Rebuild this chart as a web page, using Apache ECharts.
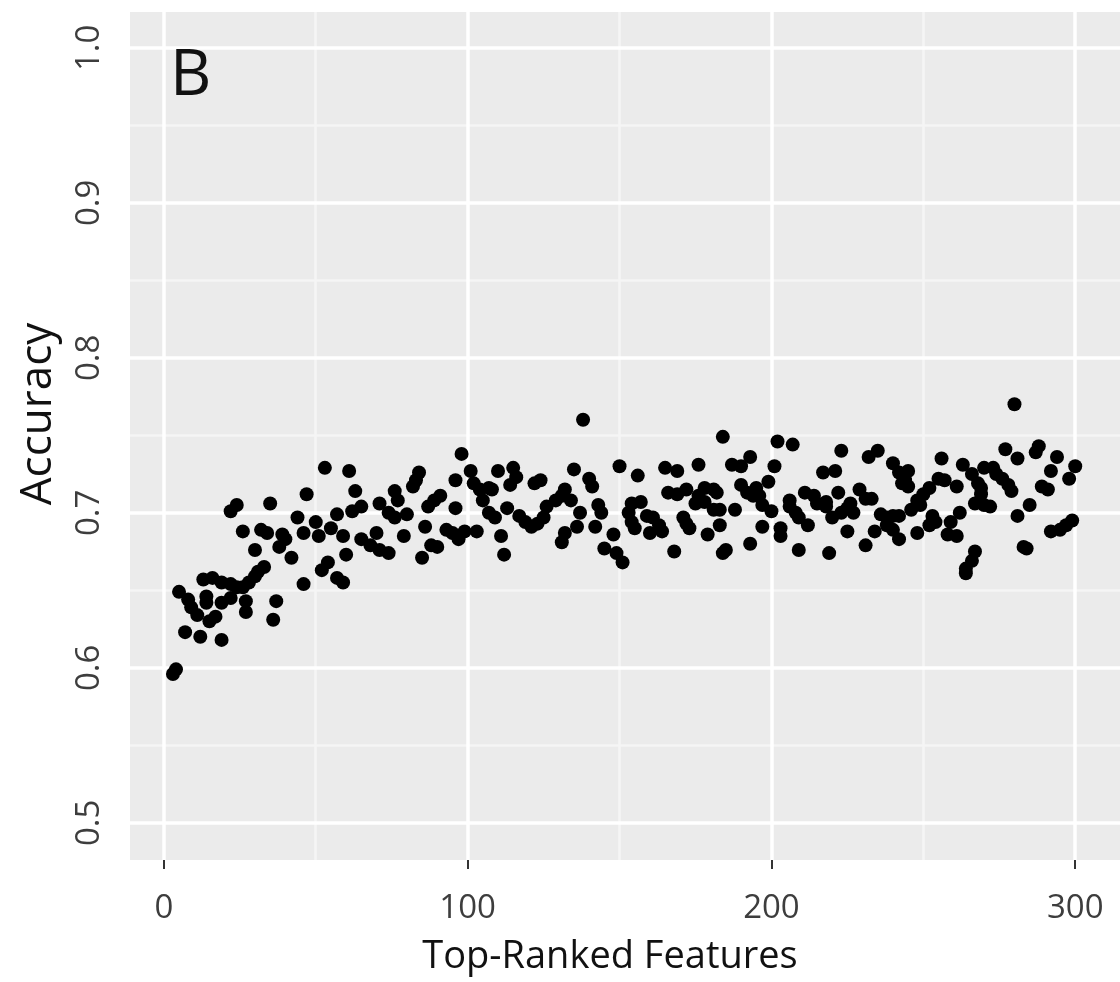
<!DOCTYPE html>
<html><head><meta charset="utf-8">
<script src="https://cdn.jsdelivr.net/npm/echarts@6/dist/echarts.min.js"></script>
<style>html,body{margin:0;padding:0;background:#fff}#c{width:1120px;height:982px}</style>
</head><body><div id="c"></div>
<script>
// Number of top-ranked features used (x) and the resulting accuracy (y)
const featureCounts = [
3,4,22,24,35,26,32,34,44,47,39,40,38,30,42,46,33,31,30,28,26,24,22,19,16,13,5,8,9,11,14,14,19,22,27,27,37,36,7,12,19,15,17,46,
53,61,63,50,57,51,55,59,62,65,65,68,70,71,74,71,74,76,76,77,80,82,84,83,79,60,54,52,57,59,86,85,88,90,93,95,87,89,91,96,96,
138,98,101,102,104,105,107,108,110,115,116,114,122,124,113,107,109,117,119,121,123,125,126,129,131,132,134,135,140,141,137,143,144,142,136,132,131,99,103,97,111,112,145,
184,150,156,165,169,176,187,190,193,166,169,172,178,181,182,190,192,194,154,157,153,154,155,159,161,163,160,164,175,176,178,181,183,171,173,172,188,183,179,148,149,168,185,184,193,151,
202,207,223,232,235,240,242,243,201,217,221,199,195,196,211,214,215,218,218,222,229,231,233,226,225,223,227,206,206,208,209,212,197,200,220,236,238,240,242,238,240,197,203,203,225,234,242,209,219,231,
280,256,277,281,288,287,294,300,298,292,263,266,270,273,274,276,278,279,245,244,245,255,257,261,252,250,268,269,269,248,249,246,267,270,272,289,291,285,281,253,254,252,262,259,299,297,295,292,248,258,261,283,284,267,266,264,264
];
const accuracy = [
0.596,0.599,0.701,0.705,0.706,0.688,0.689,0.687,0.697,0.712,0.686,0.683,0.678,0.676,0.671,0.687,0.665,0.662,0.659,0.655,0.652,0.652,0.654,0.655,0.658,0.657,0.649,0.644,0.639,0.634,0.646,0.642,0.642,0.645,0.643,0.636,0.643,0.631,0.623,0.620,0.618,0.630,0.633,0.654,
0.729,0.727,0.714,0.694,0.699,0.685,0.690,0.685,0.701,0.704,0.683,0.679,0.687,0.676,0.674,0.706,0.700,0.697,0.714,0.708,0.699,0.717,0.726,0.721,0.685,0.673,0.668,0.663,0.658,0.655,0.691,0.671,0.679,0.678,0.689,0.687,0.704,0.708,0.711,0.721,0.703,
0.760,0.738,0.727,0.719,0.715,0.708,0.716,0.715,0.727,0.729,0.723,0.718,0.719,0.721,0.703,0.700,0.697,0.698,0.694,0.691,0.693,0.697,0.704,0.708,0.711,0.715,0.708,0.728,0.722,0.717,0.700,0.705,0.700,0.691,0.691,0.687,0.681,0.688,0.688,0.683,0.685,0.673,0.677,
0.749,0.730,0.724,0.729,0.727,0.731,0.731,0.730,0.736,0.713,0.712,0.715,0.716,0.715,0.713,0.718,0.713,0.711,0.706,0.707,0.700,0.694,0.690,0.698,0.697,0.692,0.687,0.688,0.706,0.711,0.707,0.702,0.702,0.697,0.690,0.693,0.702,0.692,0.686,0.686,0.674,0.675,0.676,0.674,0.680,0.668,
0.746,0.744,0.740,0.736,0.740,0.732,0.726,0.719,0.730,0.726,0.727,0.720,0.716,0.711,0.713,0.711,0.706,0.707,0.704,0.713,0.715,0.709,0.709,0.706,0.703,0.700,0.700,0.708,0.704,0.700,0.697,0.692,0.705,0.701,0.697,0.699,0.697,0.698,0.698,0.692,0.689,0.691,0.690,0.685,0.688,0.688,0.683,0.676,0.674,0.679,
0.770,0.735,0.741,0.735,0.743,0.739,0.736,0.730,0.722,0.727,0.731,0.725,0.729,0.729,0.725,0.722,0.718,0.714,0.727,0.721,0.717,0.722,0.721,0.717,0.716,0.712,0.719,0.716,0.712,0.708,0.705,0.702,0.706,0.705,0.704,0.717,0.715,0.705,0.698,0.698,0.694,0.692,0.700,0.694,0.695,0.692,0.689,0.688,0.687,0.686,0.685,0.678,0.677,0.675,0.669,0.664,0.661
];
const xTicks = [0, 100, 200, 300];
const xMinorTicks = [50, 150, 250];
const yTicks = [0.5, 0.6, 0.7, 0.8, 0.9, 1.0];
const yMinorTicks = [0.55, 0.65, 0.75, 0.85, 0.95];
const xTitle = 'Top-Ranked Features';
const yTitle = 'Accuracy';
const panelTag = 'B';

const points = featureCounts.map((x, i) => [x, accuracy[i]]);
const FONT = '"Open Sans", "Noto Sans", sans-serif';

const majorStyle = { color: '#ffffff', width: 3.5, type: 'solid' };
const minorStyle = { color: '#f5f5f5', width: 2.6, type: 'solid' };
const gridLines = []
  .concat(xMinorTicks.map(v => ({ xAxis: v, lineStyle: minorStyle })))
  .concat(yMinorTicks.map(v => ({ yAxis: v, lineStyle: minorStyle })))
  .concat(xTicks.map(v => ({ xAxis: v, lineStyle: majorStyle })))
  .concat(yTicks.map(v => ({ yAxis: v, lineStyle: majorStyle })));

const chart = echarts.init(document.getElementById('c'), null, { renderer: 'canvas' });
chart.setOption({
  backgroundColor: '#ffffff',
  animation: false,
  grid: {
    left: 130, top: 12, width: 995, height: 848,
    show: true, backgroundColor: '#ebebeb', borderWidth: 0
  },
  xAxis: {
    type: 'value', min: -11.14, max: 314.74,
    axisLine: { show: false },
    splitLine: { show: false },
    axisTick: { show: true, customValues: xTicks, length: 9, lineStyle: { color: '#333333', width: 2 } },
    axisLabel: { customValues: xTicks, fontSize: 33, color: '#3d3d3d', fontFamily: FONT, margin: 32 }
  },
  yAxis: {
    type: 'value', min: 0.476, max: 1.0231,
    axisLine: { show: false },
    splitLine: { show: false },
    axisTick: { show: true, customValues: yTicks, length: 9, lineStyle: { color: '#333333', width: 2 } },
    axisLabel: {
      customValues: yTicks, fontSize: 33, color: '#3d3d3d', fontFamily: FONT, margin: 24, rotate: 90,
      formatter: v => v.toFixed(1)
    }
  },
  graphic: [
    { type: 'text', left: 170, top: 45, z: 100,
      style: { text: panelTag, font: '400 64px ' + FONT, fill: '#111111' } },
    { type: 'text', x: 610, y: 957, z: 100,
      style: { text: xTitle, font: '400 38px ' + FONT, fill: '#111111', align: 'center', verticalAlign: 'middle' } },
    { type: 'text', x: 38, y: 414, rotation: Math.PI / 2, z: 100,
      style: { text: yTitle, font: '400 44px ' + FONT, fill: '#111111', align: 'center', verticalAlign: 'middle' } }
  ],
  series: [
    {
      type: 'line', data: [], z: 1, silent: true,
      markLine: { silent: true, symbol: ['none', 'none'], label: { show: false }, animation: false, data: gridLines }
    },
    {
      type: 'scatter', data: points, z: 5, symbol: 'circle', symbolSize: 14,
      itemStyle: { color: '#000000', opacity: 1 }
    }
  ]
});
</script>
</body></html>
